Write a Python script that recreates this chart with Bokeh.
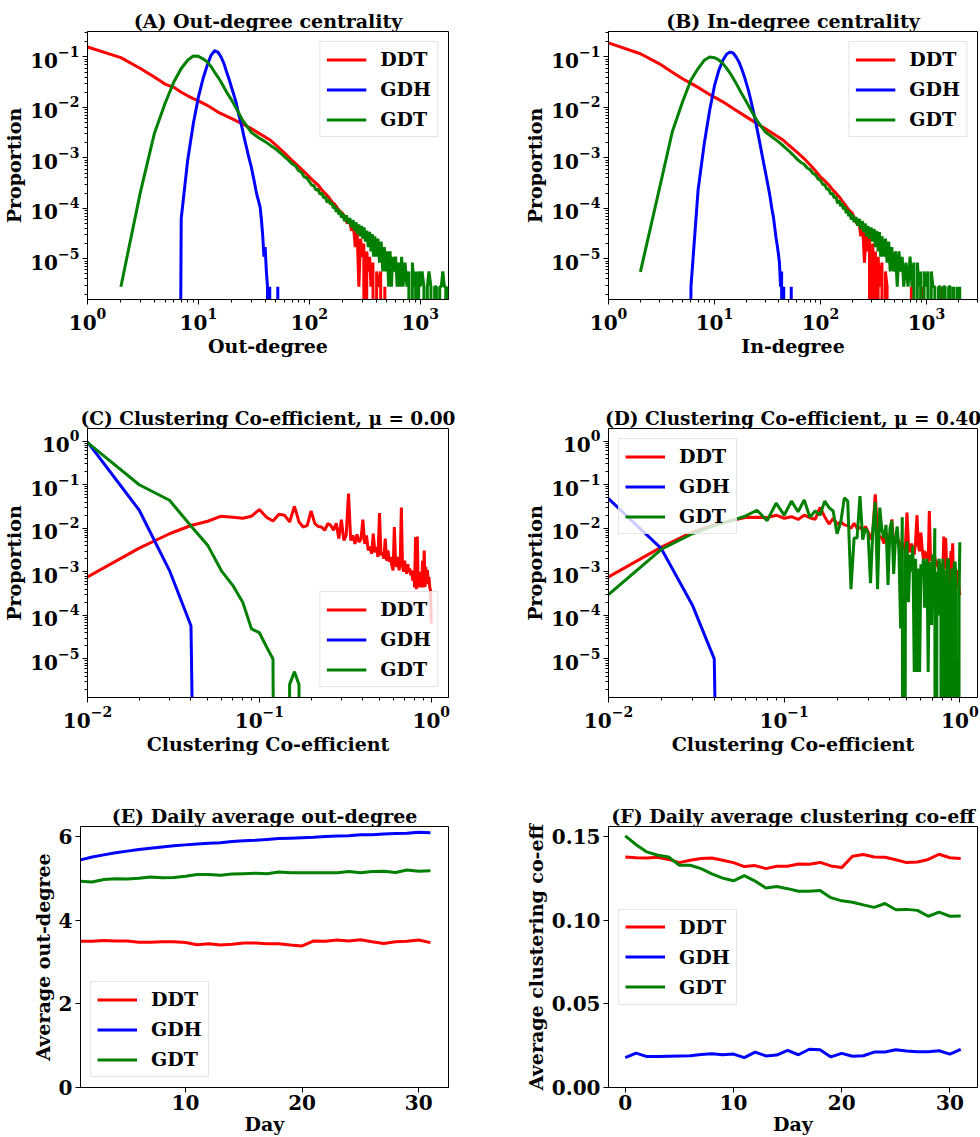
from bokeh.plotting import figure
from bokeh.layouts import row, column
from bokeh.models import FixedTicker, Range1d, NumeralTickFormatter
from bokeh.embed import file_html
from bokeh.resources import INLINE

SERIES = ["DDT", "GDH", "GDT"]
COLORS = {"DDT": "#ff0000", "GDH": "#0000ff", "GDT": "#008000"}
FONT = "DejaVu Serif"

# ---------------- (A) Out-degree distribution ----------------
A_DDT_X = list(range(1, 11)) + [12, 15, 20, 25, 30, 35, 40, 45, 50] + list(range(60, 201, 10)) + \
    list(range(210, 361, 10)) + [375, 390, 405, 420, 440, 460, 480, 500]
A_DDT_Y = [0.158, 0.097, 0.059, 0.040, 0.029, 0.025, 0.020, 0.017, 0.015, 0.0135] + \
    [0.011, 0.0081, 0.0060, 0.0047, 0.0038, 0.0031, 0.0026, 0.0022, 0.0018] + \
    [1.25e-3, 8.9e-4, 6.8e-4, 5.3e-4, 4.2e-4, 3.4e-4, 2.9e-4, 2.3e-4, 1.95e-4, 1.65e-4, 1.35e-4, 1.2e-4, 1.0e-4, 8.6e-5, 7.9e-5] + \
    [6.5e-5, 5.0e-5, 6.0e-5, 3.6e-5, 4.5e-5, 1.7e-5, 3.6e-5, 2.8e-6, 2.5e-5, 1.1e-5, 2.0e-5, 0, 1.4e-5, 5.6e-6, 1.1e-5, 2.8e-6] + \
    [8.4e-6, 0, 5.6e-6, 2.8e-6, 5.6e-6, 0, 2.8e-6, 0]

A_GDH_X = list(range(6, 46)) + [51, 52, 53]
A_GDH_Y = [0, 6.3e-5, 8.9e-4, 4.8e-3, 0.016, 0.037, 0.068, 0.108, 0.133, 0.125,
           0.100, 0.074, 0.050, 0.035, 0.024, 0.017, 0.012, 0.0075, 0.0052, 0.0036,
           0.0024, 0.0017, 0.0012, 8.8e-4, 6.6e-4, 4.6e-4, 3.3e-4, 2.3e-4, 1.7e-4, 1.35e-4,
           1.07e-4, 6.0e-5, 2.9e-5, 1.1e-5, 1.7e-5, 5.6e-6, 2.8e-6, 0, 2.8e-6, 0,
           0, 2.8e-6, 0]

A_GDT_X = list(range(2, 17)) + [18, 20, 22, 25, 30, 35, 40, 45, 50, 55] + list(range(60, 101, 5)) + \
    list(range(105, 201, 5)) + list(range(208, 321, 8)) + list(range(330, 401, 10)) + \
    list(range(415, 566, 15)) + [580, 600, 620, 640, 660, 680, 700] + list(range(730, 1001, 30)) + \
    [1040, 1080, 1120, 1160, 1200] + list(range(1250, 1701, 50)) + [1720, 1750]
A_GDT_Y = [2.8e-6, 2.1e-4, 3.0e-3, 0.012, 0.032, 0.059, 0.086, 0.105, 0.103, 0.092, 0.080, 0.065, 0.050, 0.040, 0.032] + \
    [0.020, 0.0138, 0.0095, 0.0056, 0.0032, 0.0025, 0.0021, 0.00175, 0.0015, 0.00125] + \
    [1.05e-3, 9.0e-4, 7.6e-4, 7.0e-4, 5.6e-4, 5.2e-4, 4.2e-4, 4.0e-4, 3.4e-4] + \
    [2.9e-4, 2.8e-4, 2.3e-4, 2.4e-4, 1.9e-4, 2.0e-4, 1.6e-4, 1.7e-4, 1.3e-4, 1.5e-4,
     1.2e-4, 1.3e-4, 1.0e-4, 1.15e-4, 8.5e-5, 1.0e-4, 7.5e-5, 9.0e-5, 6.5e-5, 8.0e-5] + \
    [5.6e-5, 7.3e-5, 5.0e-5, 6.4e-5, 4.2e-5, 5.9e-5, 3.6e-5, 5.3e-5, 3.1e-5, 4.8e-5, 2.8e-5, 4.5e-5, 2.5e-5, 4.2e-5, 2.2e-5] + \
    [3.6e-5, 1.7e-5, 3.4e-5, 1.4e-5, 3.1e-5, 1.1e-5, 2.8e-5, 1.1e-5] + \
    [2.5e-5, 8.4e-6, 2.2e-5, 5.6e-6, 1.7e-5, 5.6e-6, 1.4e-5, 2.8e-6, 1.4e-5, 2.8e-6, 1.1e-5] + \
    [5.6e-6, 1.1e-5, 2.8e-6, 8.4e-6, 2.8e-6, 1.1e-5, 2.8e-6] + \
    [8.4e-6, 2.8e-6, 5.6e-6, 0, 8.4e-6, 2.8e-6, 5.6e-6, 0, 5.6e-6, 2.8e-6] + \
    [5.6e-6, 2.8e-6, 0, 2.8e-6, 5.6e-6] + \
    [2.8e-6, 0, 2.8e-6, 2.8e-6, 0, 2.8e-6, 2.8e-6, 5.6e-6, 2.8e-6, 2.8e-6] + [0, 2.8e-6]

# ---------------- (B) In-degree distribution ----------------
B_DDT_X = list(range(1, 11)) + [12, 15, 20, 25, 30, 35, 40, 45, 50] + list(range(60, 201, 10)) + \
    list(range(210, 361, 10)) + [380, 395, 410, 425, 440, 700, 720, 740, 900, 920, 940, 1380, 1400, 1420]
B_DDT_Y = [0.19, 0.116, 0.074, 0.050, 0.037, 0.030, 0.025, 0.021, 0.018, 0.016] + \
    [0.0129, 0.0095, 0.0065, 0.0048, 0.0038, 0.0031, 0.0026, 0.0022, 0.0018] + \
    [1.3e-3, 9.7e-4, 7.2e-4, 5.5e-4, 4.2e-4, 3.5e-4, 2.9e-4, 2.35e-4, 2.0e-4, 1.7e-4, 1.4e-4, 1.2e-4, 1.0e-4, 8.8e-5, 8.0e-5] + \
    [6.2e-5, 5.0e-5, 5.8e-5, 2.8e-5, 4.5e-5, 8.4e-6, 3.4e-5, 1.4e-5, 2.5e-5, 0, 2.0e-5, 5.6e-6, 1.4e-5, 0, 1.1e-5, 2.8e-6] + \
    [8.4e-6, 0, 5.6e-6, 2.8e-6, 0, 0, 2.8e-6, 0, 0, 2.8e-6, 0, 0, 2.8e-6, 0]

B_GDH_X = list(range(5, 47)) + [52, 53, 54]
B_GDH_Y = [0, 2.8e-6, 2.3e-4, 1.9e-3, 8.7e-3, 0.027, 0.055, 0.086, 0.113, 0.125,
           0.120, 0.100, 0.080, 0.059, 0.043, 0.030, 0.021, 0.014, 0.0093, 0.0062,
           0.0041, 0.0027, 0.0018, 0.0012, 8.2e-4, 5.7e-4, 4.0e-4, 2.8e-4, 2.0e-4, 1.35e-4,
           9.0e-5, 6.7e-5, 4.2e-5, 2.7e-5, 1.9e-5, 1.3e-5, 8.4e-6, 2.8e-6, 5.6e-6, 0,
           2.8e-6, 0, 0, 2.8e-6, 0]

B_GDT_X = list(range(2, 17)) + [18, 20, 22, 25, 30, 35, 40, 45, 50, 55] + list(range(60, 101, 5)) + \
    list(range(105, 201, 5)) + list(range(208, 281, 8)) + list(range(290, 381, 10)) + \
    list(range(395, 471, 15)) + list(range(490, 611, 20)) + list(range(640, 821, 30)) + [850, 880, 910] + \
    list(range(950, 1151, 40)) + list(range(1200, 1501, 50)) + list(range(1560, 1741, 60)) + \
    [1800, 1870, 1940, 2000, 2060, 2100]
B_GDT_Y = [5.5e-6, 2.3e-4, 3.3e-3, 0.013, 0.035, 0.059, 0.086, 0.100, 0.097, 0.087, 0.074, 0.060, 0.048, 0.038, 0.030] + \
    [0.019, 0.0129, 0.0090, 0.0056, 0.0033, 0.0026, 0.0021, 0.0017, 0.0014, 0.00115] + \
    [9.5e-4, 8.2e-4, 7.5e-4, 6.3e-4, 5.8e-4, 4.9e-4, 4.6e-4, 3.8e-4, 3.6e-4] + \
    [3.0e-4, 2.9e-4, 2.4e-4, 2.4e-4, 1.9e-4, 2.0e-4, 1.6e-4, 1.7e-4, 1.25e-4, 1.45e-4,
     1.1e-4, 1.25e-4, 9.5e-5, 1.1e-4, 8.0e-5, 9.5e-5, 7.0e-5, 8.5e-5, 6.0e-5, 7.5e-5] + \
    [5.3e-5, 6.7e-5, 4.5e-5, 6.2e-5, 3.9e-5, 5.6e-5, 3.4e-5, 5.0e-5, 2.8e-5, 4.5e-5] + \
    [2.5e-5, 4.2e-5, 2.2e-5, 3.9e-5, 1.7e-5, 3.6e-5, 1.4e-5, 3.4e-5, 1.1e-5, 2.8e-5] + \
    [1.1e-5, 2.5e-5, 8.4e-6, 2.2e-5, 5.6e-6, 1.7e-5] + \
    [5.6e-6, 1.4e-5, 2.8e-6, 1.4e-5, 5.6e-6, 1.1e-5, 2.8e-6] + \
    [8.4e-6, 2.8e-6, 1.1e-5, 2.8e-6, 8.4e-6, 0, 8.4e-6] + [2.8e-6, 5.6e-6, 0] + \
    [5.6e-6, 2.8e-6, 5.6e-6, 0, 5.6e-6, 2.8e-6] + \
    [2.8e-6, 0, 2.8e-6, 2.8e-6, 0, 2.8e-6, 2.8e-6] + [0, 2.8e-6, 2.8e-6, 0] + \
    [2.8e-6, 0, 2.8e-6, 0, 2.8e-6, 0]

# ---------------- (C), (D) Clustering co-efficient distributions ----------------
CC_BINS = [round(0.01 * k, 2) for k in range(1, 101)]

C_DDT_Y = [7.6e-4, 3.5e-3, 7.5e-3, 0.0116, 0.0145, 0.019, 0.018, 0.017, 0.019, 0.027,
           0.018, 0.0147, 0.021, 0.020, 0.014, 0.032, 0.014, 0.0107, 0.0117, 0.025,
           0.013, 0.011, 0.0107, 0.009, 0.0128, 0.0117, 0.009, 0.013, 0.0058, 0.0158,
           0.0053, 0.0069, 0.0625, 0.0053, 0.0069, 0.0044, 0.0073, 0.0048, 0.0055, 0.0158,
           0.0044, 0.0069, 0.0031, 0.0038, 0.0026, 0.0075, 0.0028, 0.0037, 0.0022, 0.0225,
           0.0024, 0.0028, 0.0020, 0.0058, 0.0018, 0.0031, 0.0017, 0.0022, 0.0014, 0.00108,
           0.0107, 0.0017, 0.0013, 0.0022, 0.00108, 0.0018, 0.030, 0.0014, 0.0010, 0.0018,
           0.0012, 9e-4, 0.0015, 0.0010, 0.0012, 8.3e-4, 0.00108, 6.3e-4, 0.0010, 4.4e-4,
           0.0063, 4.0e-4, 0.0065, 4.4e-4, 0.0010, 4.4e-4, 8.3e-4, 4.4e-4, 0.0018, 4.4e-4,
           0.0031, 4.5e-4, 0.0013, 5.2e-4, 0.0011, 6.3e-4, 7.6e-4, 4.5e-4, 3.7e-4, 6.5e-5]
C_GDH_Y = [0.97, 0.026, 1.07e-3, 5.8e-5, 0]
C_GDT_Y = [0.93, 0.10, 0.044, 0.0113, 0.0041, 1.07e-3, 4.9e-4, 2.0e-4, 4.9e-5, 4.0e-5,
           1.9e-5, 1.0e-5, 0, 0, 2.6e-6, 5.1e-6, 2.6e-6, 0]

D_DDT_Y = [7.6e-4, 3.7e-3, 8.2e-3, 0.0120, 0.0150, 0.0176, 0.0180, 0.0176, 0.0200, 0.0170,
           0.0185, 0.0160, 0.0200, 0.0175, 0.0160, 0.0300, 0.0185, 0.0125, 0.0170, 0.0125,
           0.0140, 0.0120, 0.0115, 0.0100, 0.0130, 0.0100, 0.0105, 0.0090, 0.0110, 0.0085,
           0.0055, 0.0090, 0.0600, 0.0075, 0.0065, 0.0060, 0.0045, 0.0080, 0.0040, 0.0070,
           0.0160, 0.0040, 0.0050, 0.0060, 0.0050, 0.0030, 0.0045, 0.0032, 0.0040, 0.0230,
           0.0040, 0.0028, 0.0045, 0.0030, 0.0025, 0.0050, 0.0200, 0.0040, 0.0030, 0.0080,
           0.0035, 0.0020, 0.0030, 0.0025, 0.0020, 0.0014, 0.0250, 0.0025, 0.0018, 0.0020,
           0.0015, 0.0022, 0.0016, 0.0013, 0.0018, 0.0011, 0.0015, 5.5e-4, 0.0012, 9e-4,
           0.0065, 0.0012, 0.0060, 0.0015, 9e-4, 0.0020, 6e-4, 0.0012, 0.0030, 8e-4,
           0.0045, 7e-4, 0.0011, 4.5e-4, 9e-4, 5e-4, 0.0011, 6e-4, 4e-4, 2.9e-4]
D_GDH_Y = [0.048, 3.4e-3, 1.74e-4, 1.0e-5, 0]
D_GDT_Y = [3.0e-4, 3.3e-3, 7.5e-3, 0.0115, 0.0150, 0.0190, 0.0260, 0.0150, 0.0380, 0.0200,
           0.0420, 0.0240, 0.0450, 0.0180, 0.0250, 0.0200, 0.0420, 0.0300, 0.0250, 0.0075,
           0.0140, 0.0500, 0.0420, 4.0e-4, 0.0060, 0.0060, 0.0550, 0.0055, 0.0100, 0.0080,
           5.5e-4, 0.0100, 0.0400, 4.0e-4, 0.0300, 0.0090, 0.0060, 0.0120, 5.0e-4, 0.0100,
           0.0150, 9.0e-4, 0.0060, 0.0110, 0.0030, 5.0e-5, 0.0180, 0, 0.0030, 0.0050,
           2.0e-4, 0.0025, 0.0010, 0.0040, 5.0e-6, 0.0020, 5.0e-6, 0.0012, 5.0e-6, 0.0015,
           8.0e-4, 0.0020, 1.5e-4, 0.0012, 0.0020, 5.0e-6, 0.0010, 0.0017, 6.0e-5, 0.0025,
           3.0e-4, 0.0100, 0, 0.0010, 1.0e-4, 0.0020, 0.0013, 1.0e-4, 0, 0.0020,
           7.0e-4, 0.0011, 0, 2.0e-4, 0.0020, 0.0018, 0, 6.0e-4, 2.0e-5, 0.0012,
           0, 5.0e-4, 0.0015, 0.0017, 5.0e-4, 0, 1.0e-5, 0, 3.0e-4, 4.8e-3]

# ---------------- (E), (F) Daily averages ----------------
E_DAYS = list(range(1, 32))
E_DDT = [3.50, 3.50, 3.52, 3.51, 3.51, 3.48, 3.48, 3.49, 3.49, 3.47,
         3.42, 3.44, 3.41, 3.43, 3.46, 3.46, 3.44, 3.44, 3.41, 3.39,
         3.51, 3.50, 3.53, 3.51, 3.54, 3.49, 3.45, 3.49, 3.50, 3.53, 3.47]
E_GDH = [5.45, 5.52, 5.57, 5.62, 5.66, 5.70, 5.73, 5.76, 5.79, 5.81,
         5.83, 5.85, 5.86, 5.89, 5.91, 5.92, 5.94, 5.96, 5.97, 5.98,
         5.99, 6.01, 6.02, 6.03, 6.05, 6.05, 6.07, 6.08, 6.09, 6.11, 6.10]
E_GDT = [4.94, 4.92, 4.98, 5.00, 4.99, 5.01, 5.04, 5.02, 5.03, 5.06,
         5.10, 5.10, 5.08, 5.11, 5.12, 5.13, 5.12, 5.16, 5.14, 5.14,
         5.14, 5.14, 5.14, 5.17, 5.14, 5.17, 5.18, 5.15, 5.21, 5.18, 5.19]

F_DAYS = list(range(0, 32))
F_DDT = [0.1380, 0.1375, 0.1373, 0.1378, 0.1365, 0.1346, 0.1360, 0.1370, 0.1373, 0.1360,
         0.1346, 0.1322, 0.1328, 0.1310, 0.1324, 0.1324, 0.1338, 0.1336, 0.1347, 0.1326,
         0.1316, 0.1384, 0.1394, 0.1380, 0.1378, 0.1363, 0.1346, 0.1350, 0.1365, 0.1396,
         0.1375, 0.1370]
F_GDH = [0.0179, 0.0206, 0.0185, 0.0185, 0.0187, 0.0189, 0.0190, 0.0198, 0.0202, 0.0196,
         0.0200, 0.0179, 0.0212, 0.0189, 0.0194, 0.0222, 0.0196, 0.0229, 0.0226, 0.0183,
         0.0204, 0.0187, 0.0190, 0.0212, 0.0212, 0.0226, 0.0218, 0.0214, 0.0214, 0.0220,
         0.0200, 0.0228]
F_GDT = [0.1506, 0.1453, 0.1410, 0.1390, 0.1380, 0.1330, 0.1330, 0.1310, 0.1278, 0.1253,
         0.1237, 0.1268, 0.1235, 0.1194, 0.1203, 0.1190, 0.1175, 0.1175, 0.1179, 0.1136,
         0.1117, 0.1109, 0.1093, 0.1078, 0.1101, 0.1064, 0.1066, 0.1060, 0.1025, 0.1050,
         0.1025, 0.1027]

LOG_MINOR = [m * 10.0 ** e for e in range(-7, 4) for m in range(2, 10)]


def on_log(vals):
    # empty bins (0) are drawn far below the axis floor, as a log axis clips them
    return [v if v > 0 else 1e-30 for v in vals]


def make_fig(width, height, xr, yr, xtype, ytype, borders, title, xlabel, ylabel, title_size="19px"):
    left, right, top, bottom = borders
    p = figure(width=width, height=height, x_range=Range1d(*xr), y_range=Range1d(*yr),
               x_axis_type=xtype, y_axis_type=ytype, output_backend="svg",
               toolbar_location=None, title=title,
               min_border_left=left, min_border_right=right,
               min_border_top=top, min_border_bottom=bottom)
    p.title.text_font = FONT
    p.title.text_font_style = "bold"
    p.title.text_font_size = title_size
    p.title.text_color = "black"
    p.title.align = "center"
    p.title.standoff = 0
    p.title.offset = 0
    p.xgrid.visible = False
    p.ygrid.visible = False
    p.outline_line_color = "black"
    p.outline_line_width = 1
    p.background_fill_color = "white"
    p.border_fill_color = "white"
    p.xaxis.axis_label = xlabel
    p.yaxis.axis_label = ylabel
    for ax in (p.xaxis[0], p.yaxis[0]):
        ax.major_label_text_font = FONT
        ax.major_label_text_font_style = "bold"
        ax.major_label_text_font_size = "20px"
        ax.major_label_text_color = "black"
        ax.axis_label_text_font = FONT
        ax.axis_label_text_font_style = "bold"
        ax.axis_label_text_font_size = "19px"
        ax.axis_label_text_color = "black"
        ax.axis_label_standoff = 2
        ax.major_label_standoff = 3
        ax.major_tick_in = 0
        ax.major_tick_out = 5
        ax.minor_tick_in = 0
        ax.minor_tick_out = 3
        ax.axis_line_color = "black"
        ax.major_tick_line_color = "black"
        ax.minor_tick_line_color = "black"
    return p


def style_legend(p, location):
    leg = p.legend[0]
    leg.location = location
    leg.label_text_font = FONT
    leg.label_text_font_style = "bold"
    leg.label_text_font_size = "19px"
    leg.label_text_color = "black"
    leg.glyph_width = 40
    leg.glyph_height = 21
    leg.label_height = 21
    leg.label_standoff = 14
    leg.spacing = 8
    leg.padding = 6
    leg.margin = 10
    leg.border_line_color = "#cccccc"
    leg.border_line_width = 1
    leg.background_fill_alpha = 0.8


# (A)
pA = make_fig(498, 398, (1, 1800), (1.56e-6, 0.32), "log", "log", (80, 50, 31, 99),
              "(A) Out-degree centrality", "Out-degree", "Proportion")
pA.xaxis.ticker = FixedTicker(ticks=[1, 10, 100, 1000], minor_ticks=LOG_MINOR)
pA.yaxis.ticker = FixedTicker(ticks=[1e-5, 1e-4, 1e-3, 1e-2, 1e-1], minor_ticks=LOG_MINOR)
for name, xs, ys in (("DDT", A_DDT_X, A_DDT_Y), ("GDH", A_GDH_X, A_GDH_Y), ("GDT", A_GDT_X, A_GDT_Y)):
    pA.line(xs, on_log(ys), line_color=COLORS[name], line_width=3, legend_label=name)
style_legend(pA, "top_right")

# (B)
pB = make_fig(482, 398, (1, 3030), (1.56e-6, 0.32), "log", "log", (110, 3, 31, 99),
              "(B) In-degree centrality", "In-degree", "Proportion")
pB.xaxis.ticker = FixedTicker(ticks=[1, 10, 100, 1000], minor_ticks=LOG_MINOR)
pB.yaxis.ticker = FixedTicker(ticks=[1e-5, 1e-4, 1e-3, 1e-2, 1e-1], minor_ticks=LOG_MINOR)
for name, xs, ys in (("DDT", B_DDT_X, B_DDT_Y), ("GDH", B_GDH_X, B_GDH_Y), ("GDT", B_GDT_X, B_GDT_Y)):
    pB.line(xs, on_log(ys), line_color=COLORS[name], line_width=3, legend_label=name)
style_legend(pB, "top_right")

# (C)
pC = make_fig(498, 397, (0.01, 1.26), (1.3e-6, 1.96), "log", "log", (80, 50, 30, 98),
              "(C) Clustering Co-efficient, \u03bc = 0.00", "Clustering Co-efficient", "Proportion",
              title_size="18.5px")
pC.xaxis.ticker = FixedTicker(ticks=[0.01, 0.1, 1], minor_ticks=LOG_MINOR)
pC.yaxis.ticker = FixedTicker(ticks=[1e-5, 1e-4, 1e-3, 1e-2, 1e-1, 1], minor_ticks=LOG_MINOR)
for name, ys in (("DDT", C_DDT_Y), ("GDH", C_GDH_Y), ("GDT", C_GDT_Y)):
    pC.line(CC_BINS[:len(ys)], on_log(ys), line_color=COLORS[name], line_width=3, legend_label=name)
style_legend(pC, "bottom_right")

# (D)
pD = make_fig(482, 397, (0.01, 1.26), (1.3e-6, 1.96), "log", "log", (110, 3, 30, 98),
              "(D) Clustering Co-efficient, \u03bc = 0.40", "Clustering Co-efficient", "Proportion",
              title_size="18.5px")
pD.xaxis.ticker = FixedTicker(ticks=[0.01, 0.1, 1], minor_ticks=LOG_MINOR)
pD.yaxis.ticker = FixedTicker(ticks=[1e-5, 1e-4, 1e-3, 1e-2, 1e-1, 1], minor_ticks=LOG_MINOR)
for name, ys in (("DDT", D_DDT_Y), ("GDH", D_GDH_Y), ("GDT", D_GDT_Y)):
    pD.line(CC_BINS[:len(ys)], on_log(ys), line_color=COLORS[name], line_width=3, legend_label=name)
style_legend(pD, "top_left")

# (E)
pE = make_fig(498, 342, (1, 32.55), (0, 6.25), "linear", "linear", (80, 50, 31, 43),
              "(E) Daily average out-degree", "Day", "Average out-degree")
pE.xaxis.ticker = FixedTicker(ticks=[10, 20, 30])
pE.yaxis.ticker = FixedTicker(ticks=[0, 2, 4, 6])
for name, ys in (("DDT", E_DDT), ("GDH", E_GDH), ("GDT", E_GDT)):
    pE.line(E_DAYS, ys, line_color=COLORS[name], line_width=3, legend_label=name)
style_legend(pE, "bottom_left")

# (F)
pF = make_fig(482, 342, (-1.55, 32.55), (0, 0.1562), "linear", "linear", (110, 3, 31, 43),
              "(F) Daily average clustering co-eff", "Day", "Average clustering co-eff")
pF.xaxis.ticker = FixedTicker(ticks=[0, 10, 20, 30])
pF.yaxis.ticker = FixedTicker(ticks=[0.0, 0.05, 0.10, 0.15])
pF.yaxis.formatter = NumeralTickFormatter(format="0.00")
for name, ys in (("DDT", F_DDT), ("GDH", F_GDH), ("GDT", F_GDT)):
    pF.line(F_DAYS, ys, line_color=COLORS[name], line_width=3, legend_label=name)
style_legend(pF, "left")

for p in (pE, pF):
    p.xaxis.axis_label_standoff = 0
    p.xaxis.major_label_standoff = 2

layout = column(row(pA, pB), row(pC, pD), row(pE, pF))
open("out.html", "w").write(file_html(layout, INLINE))
